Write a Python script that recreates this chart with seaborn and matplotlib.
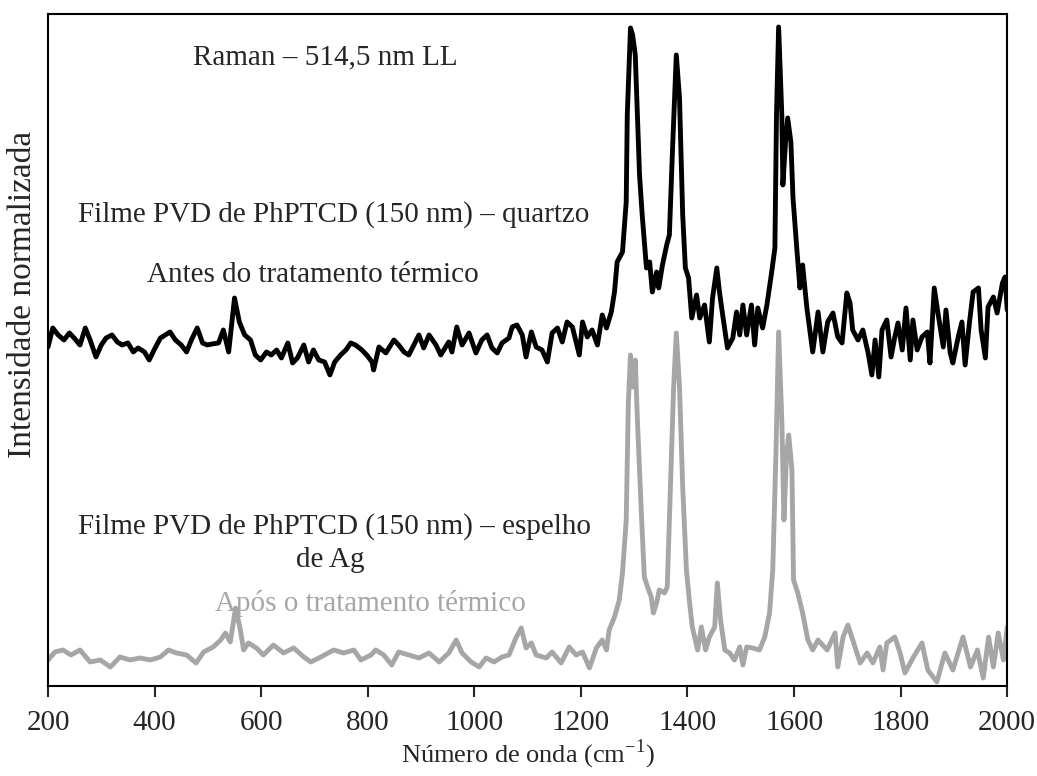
import numpy as np
import pandas as pd
import matplotlib
matplotlib.use("Agg")
import matplotlib.pyplot as plt
import seaborn as sns

# Spectrum 1: before heat treatment (quartz substrate) - wavenumber (cm-1), normalized intensity (offset)
antes_x = [200, 209, 219, 230, 240, 249, 260, 270, 279, 290, 300, 309, 320, 330, 339, 350, 360, 369, 381, 390,
           399, 411, 420, 429, 439, 450, 460, 469, 480, 490, 499, 508, 520, 529, 539, 550, 559, 569, 580, 589,
           599, 610, 619, 629, 638, 650, 659, 668, 680, 689, 698, 708, 719, 729, 738, 749, 759, 768, 777, 789,
           798, 808, 811, 821, 834, 849, 858, 868, 877, 896, 905, 915, 928, 937, 952, 958, 967, 977, 990, 1003,
           1014, 1024, 1033, 1043, 1052, 1065, 1071, 1080, 1090, 1097, 1107, 1116, 1127, 1137, 1146, 1156, 1165, 1174, 1184, 1197,
           1203, 1212, 1221, 1231, 1240, 1248, 1257, 1263, 1268, 1278, 1285, 1287, 1293, 1297, 1302, 1310, 1315, 1323, 1329, 1334,
           1342, 1346, 1353, 1361, 1366, 1372, 1379, 1385, 1391, 1396, 1402, 1408, 1417, 1423, 1432, 1441, 1447, 1455, 1460, 1466,
           1475, 1485, 1492, 1498, 1504, 1511, 1520, 1526, 1532, 1541, 1549, 1558, 1564, 1567, 1571, 1577, 1579, 1584, 1588, 1594,
           1598, 1605, 1611, 1616, 1624, 1630, 1635, 1645, 1654, 1663, 1673, 1682, 1690, 1699, 1705, 1710, 1720, 1729, 1739, 1746,
           1752, 1759, 1765, 1774, 1782, 1789, 1795, 1803, 1810, 1818, 1823, 1831, 1840, 1850, 1855, 1863, 1870, 1880, 1885, 1893,
           1898, 1908, 1915, 1921, 1929, 1936, 1946, 1951, 1959, 1964, 1974, 1981, 1991, 1996, 2000]
antes_y = [339, 358, 351, 346, 353, 348, 341, 358, 346, 329, 341, 348, 351, 344, 341, 343, 334, 338, 334, 326,
           336, 348, 351, 354, 346, 341, 334, 346, 358, 343, 341, 342, 343, 356, 334, 388, 364, 351, 346, 331,
           326, 334, 331, 336, 328, 343, 323, 328, 341, 324, 336, 326, 324, 311, 324, 331, 336, 343, 341, 336,
           331, 324, 316, 339, 333, 346, 341, 334, 331, 351, 338, 351, 341, 331, 344, 334, 359, 341, 353, 333,
           346, 351, 338, 333, 343, 348, 359, 361, 351, 329, 354, 339, 336, 324, 353, 358, 344, 364, 359, 331,
           364, 349, 356, 341, 371, 358, 374, 394, 424, 434, 484, 571, 658, 651, 631, 511, 471, 418, 424, 394,
           414, 398, 421, 441, 451, 538, 631, 588, 471, 418, 408, 368, 391, 368, 381, 344, 388, 418, 394, 371,
           338, 348, 374, 351, 381, 351, 381, 341, 378, 358, 381, 414, 438, 571, 659, 571, 501, 544, 568, 544,
           488, 438, 398, 421, 378, 354, 334, 374, 334, 364, 373, 349, 343, 393, 383, 356, 346, 356, 333, 311,
           346, 309, 356, 366, 329, 349, 363, 336, 378, 326, 366, 336, 349, 354, 323, 398, 373, 339, 376, 333,
           323, 349, 364, 321, 363, 394, 398, 356, 328, 379, 389, 373, 403, 409, 376]

# Spectrum 2: after heat treatment (Ag mirror substrate)
apos_x = [200, 213, 228, 243, 260, 279, 298, 317, 335, 354, 373, 392, 411, 426, 441, 460, 478, 492, 510, 524,
          533, 542, 552, 561, 567, 576, 591, 604, 623, 642, 661, 680, 693, 712, 736, 755, 774, 787, 806, 815,
          830, 845, 858, 877, 896, 915, 934, 952, 966, 977, 994, 1009, 1022, 1037, 1052, 1065, 1078, 1088, 1097, 1107,
          1116, 1135, 1146, 1163, 1178, 1191, 1203, 1216, 1229, 1240, 1248, 1253, 1263, 1272, 1278, 1285, 1289, 1293, 1297, 1302,
          1306, 1314, 1319, 1325, 1332, 1336, 1342, 1347, 1357, 1362, 1368, 1374, 1379, 1385, 1391, 1398, 1404, 1409, 1419, 1426,
          1434, 1441, 1451, 1456, 1462, 1470, 1479, 1488, 1498, 1504, 1511, 1522, 1535, 1545, 1554, 1560, 1566, 1571, 1577, 1581,
          1586, 1590, 1596, 1599, 1607, 1616, 1626, 1635, 1645, 1662, 1677, 1682, 1692, 1701, 1710, 1724, 1737, 1748, 1761, 1767,
          1774, 1789, 1799, 1808, 1823, 1840, 1851, 1868, 1883, 1898, 1917, 1931, 1944, 1955, 1965, 1974, 1983, 1993, 2000]
apos_y = [26, 34, 36, 31, 36, 24, 26, 19, 29, 26, 28, 26, 29, 36, 33, 31, 23, 34, 39, 46,
          53, 44, 78, 56, 36, 43, 38, 31, 41, 33, 38, 29, 24, 29, 36, 33, 36, 26, 31, 36,
          31, 21, 34, 31, 28, 33, 24, 33, 46, 33, 24, 19, 28, 24, 29, 31, 48, 58, 38, 43,
          31, 28, 34, 23, 39, 31, 34, 18, 38, 46, 36, 56, 69, 86, 113, 166, 283, 331, 299, 326,
          266, 166, 109, 99, 89, 73, 83, 96, 93, 99, 199, 299, 353, 299, 199, 116, 83, 59, 36, 59,
          36, 49, 59, 103, 66, 36, 33, 26, 39, 21, 39, 38, 36, 49, 73, 116, 233, 354, 266, 166,
          233, 251, 216, 106, 93, 73, 46, 36, 46, 36, 53, 19, 49, 61, 46, 23, 33, 23, 39, 16,
          43, 49, 33, 13, 28, 43, 16, 4, 33, 16, 49, 19, 36, 8, 49, 19, 53, 26, 59]

xticks = [200, 400, 600, 800, 1000, 1200, 1400, 1600, 1800, 2000]

df1 = pd.DataFrame({"x": antes_x, "y": antes_y})
df2 = pd.DataFrame({"x": apos_x, "y": apos_y})

sns.set_style("white")
plt.rcParams["font.family"] = ["Liberation Serif", "DejaVu Serif"]
plt.rcParams["mathtext.fontset"] = "custom"
plt.rcParams["mathtext.rm"] = "Liberation Serif"

fig = plt.figure(figsize=(10.37, 7.76), dpi=100)
ax = fig.add_axes([0.0463, 0.116, 0.925, 0.866])

gray = "#a6a6a6"
sns.lineplot(data=df2, x="x", y="y", ax=ax, color=gray, linewidth=3.5, sort=False, estimator=None)
sns.lineplot(data=df1, x="x", y="y", ax=ax, color="black", linewidth=3.5, sort=False, estimator=None)

ax.set_xlim(200, 2000)
ax.set_ylim(0, 672)
ax.set_xticks(xticks)
ax.set_xticklabels([str(t) for t in xticks])
ax.set_yticks([])
ax.tick_params(axis="x", direction="out", length=8, width=1.5, labelsize=21, pad=9, bottom=True)
for s in ax.spines.values():
    s.set_color("black")
    s.set_linewidth(1.5)

ax.set_xlabel("Número de onda (cm$^{\\mathregular{-1}}$)", fontsize=19)
ax.xaxis.set_label_coords(0.5, -0.077)
ax.set_ylabel("Intensidade normalizada", fontsize=24)
ax.yaxis.set_label_coords(-0.01, 0.582)

fs = 21
ax.text(0.151, 0.935, "Raman – 514,5 nm LL", transform=ax.transAxes, fontsize=fs, ha="left", va="center")
ax.text(0.031, 0.701, "Filme PVD de PhPTCD (150 nm) – quartzo", transform=ax.transAxes, fontsize=fs, ha="left", va="center")
ax.text(0.276, 0.612, "Antes do tratamento térmico", transform=ax.transAxes, fontsize=fs, ha="center", va="center")
ax.text(0.031, 0.237, "Filme PVD de PhPTCD (150 nm) – espelho", transform=ax.transAxes, fontsize=fs, ha="left", va="center")
ax.text(0.294, 0.1875, "de Ag", transform=ax.transAxes, fontsize=fs, ha="center", va="center")
ax.text(0.336, 0.122, "Após o tratamento térmico", transform=ax.transAxes, fontsize=fs, ha="center", va="center", color=gray)

fig.savefig("out.png", dpi=100)
